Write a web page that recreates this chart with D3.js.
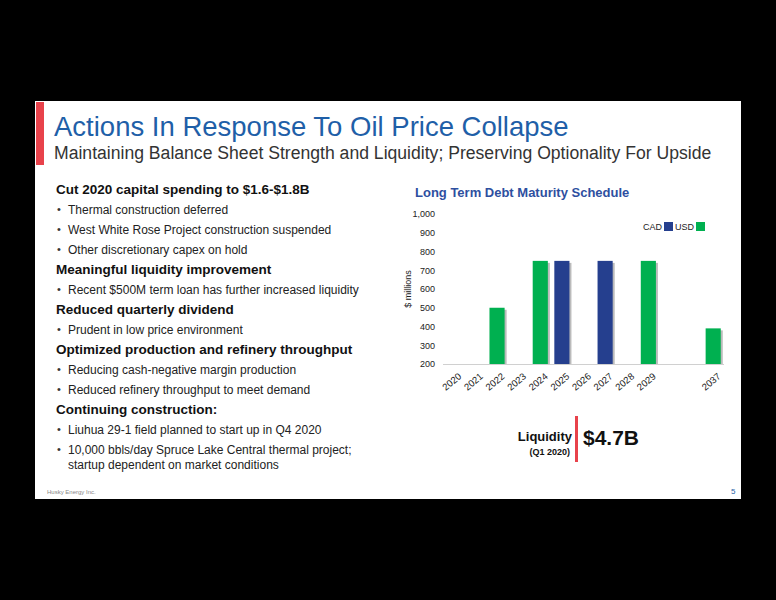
<!DOCTYPE html><html><head><meta charset="utf-8">
<script src="https://cdn.jsdelivr.net/npm/d3@7"></script>
<style>body{margin:0;background:#000}svg{display:block;font-family:"Liberation Sans",Arial,sans-serif}</style></head><body>
<svg id="c" width="776" height="600"></svg>
<script>
const categories=["2020","2021","2022","2023","2024","2025","2026","2027","2028","2029","","_","2037"];
const usdValues=[null,null,500,null,750,null,null,null,null,750,null,null,390];
const cadValues=[null,null,null,null,null,750,null,750,null,null,null,null,null];
const yTicks=[200,300,400,500,600,700,800,900,1000];
const bullets=[
 ["h","Cut 2020 capital spending to $1.6-$1.8B"],
 ["b","Thermal construction deferred"],
 ["b","West White Rose Project construction suspended"],
 ["b","Other discretionary capex on hold"],
 ["h","Meaningful liquidity improvement"],
 ["b","Recent $500M term loan has further increased liquidity"],
 ["h","Reduced quarterly dividend"],
 ["b","Prudent in low price environment"],
 ["h","Optimized production and refinery throughput"],
 ["b","Reducing cash-negative margin production"],
 ["b","Reduced refinery throughput to meet demand"],
 ["h","Continuing construction:"],
 ["b","Liuhua 29-1 field planned to start up in Q4 2020"],
 ["b","10,000 bbls/day Spruce Lake Central thermal project;","startup dependent on market conditions"]];
const blue="#253f8e",green="#00b050";
const svg=d3.select("#c");
svg.append("rect").attr("x",0).attr("y",0).attr("width",776).attr("height",600).attr("fill","#000");
svg.append("rect").attr("x",35).attr("y",101).attr("width",706).attr("height",398).attr("fill","#fff");
svg.append("rect").attr("x",36).attr("y",102).attr("width",8).attr("height",63).attr("fill","#e8424b");
svg.append("text").attr("x",54).attr("y",136).attr("font-size",27.5).attr("fill","#1f5fa8").text("Actions In Response To Oil Price Collapse");
svg.append("text").attr("x",54).attr("y",159).attr("font-size",17.6).attr("fill","#333").text("Maintaining Balance Sheet Strength and Liquidity; Preserving Optionality For Upside");
let y=194;
bullets.forEach(b=>{
 if(b[0]=="h"){svg.append("text").attr("x",56).attr("y",y).attr("font-size",13.5).attr("font-weight","bold").attr("fill","#111").text(b[1]);y+=20;}
 else{svg.append("text").attr("x",57).attr("y",y-1).attr("font-size",11).attr("fill","#333").text("•");
  svg.append("text").attr("x",68).attr("y",y).attr("font-size",12).attr("fill","#222").text(b[1]);
  if(b[2]){y+=15;svg.append("text").attr("x",68).attr("y",y).attr("font-size",12).attr("fill","#222").text(b[2]);}
  y+=20;}
});
svg.append("text").attr("x",47).attr("y",494).attr("font-size",6).attr("fill","#888").text("Husky Energy Inc.");
svg.append("text").attr("x",731).attr("y",494).attr("font-size",8).attr("fill","#1f5fa8").text("5");
// chart
svg.append("text").attr("x",415).attr("y",197).attr("font-size",13).attr("font-weight","bold").attr("fill","#2e4fa0").text("Long Term Debt Maturity Schedule");
const x=d3.scaleBand().domain(categories).range([443,724]).paddingInner(0.3).paddingOuter(0.15);
const yS=d3.scaleLinear().domain([200,1000]).range([364,214]);
const ya=svg.append("g").attr("transform","translate(443,0)").call(d3.axisLeft(yS).tickValues(yTicks).tickFormat(d3.format(",")).tickSize(0).tickPadding(8));
ya.select(".domain").remove();ya.selectAll("text").attr("font-size",9).attr("fill","#222").attr("font-family","Liberation Sans,Arial");
svg.append("text").attr("transform","translate(411,289) rotate(-90)").attr("text-anchor","middle").attr("font-size",9).attr("fill","#222").text("$ millions");
svg.append("line").attr("x1",443).attr("x2",724).attr("y1",364.5).attr("y2",364.5).attr("stroke","#d0d0d0");
const xa=svg.append("g").attr("transform","translate(0,364)").call(d3.axisBottom(x).tickSize(0).tickFormat(d=>/^\d+$/.test(d)?d:""));
xa.select(".domain").remove();
xa.selectAll("text").attr("font-size",9.5).attr("fill","#222").attr("font-family","Liberation Sans,Arial").attr("text-anchor","end").attr("transform","translate(2,6) rotate(-40)").attr("dy","0.7em");
function bars(vals,col){
 const d=categories.map((c,i)=>({c,v:vals[i]})).filter(o=>o.v!=null);
 svg.append("g").selectAll("rect").data(d).join("rect").attr("x",o=>x(o.c)+2).attr("y",o=>yS(o.v)+2).attr("width",x.bandwidth()).attr("height",o=>364-yS(o.v)-2).attr("fill","#bbb");
 svg.append("g").selectAll("rect").data(d).join("rect").attr("x",o=>x(o.c)).attr("y",o=>yS(o.v)).attr("width",x.bandwidth()).attr("height",o=>364-yS(o.v)).attr("fill",col);
}
bars(usdValues,green);bars(cadValues,blue);
svg.append("text").attr("x",643).attr("y",230).attr("font-size",9).attr("fill","#222").text("CAD");
svg.append("rect").attr("x",664).attr("y",222).attr("width",9).attr("height",9).attr("fill",blue);
svg.append("text").attr("x",675).attr("y",230).attr("font-size",9).attr("fill","#222").text("USD");
svg.append("rect").attr("x",696).attr("y",222).attr("width",9).attr("height",9).attr("fill",green);
// liquidity
svg.append("text").attr("x",572).attr("y",441).attr("text-anchor","end").attr("font-size",13).attr("font-weight","bold").attr("fill","#111").text("Liquidity");
svg.append("text").attr("x",570).attr("y",455).attr("text-anchor","end").attr("font-size",9).attr("font-weight","bold").attr("fill","#111").text("(Q1 2020)");
svg.append("rect").attr("x",575).attr("y",416).attr("width",3).attr("height",46).attr("fill","#e8424b");
svg.append("text").attr("x",583).attr("y",445).attr("font-size",21).attr("font-weight","bold").attr("fill","#111").text("$4.7B");
</script></body></html>
